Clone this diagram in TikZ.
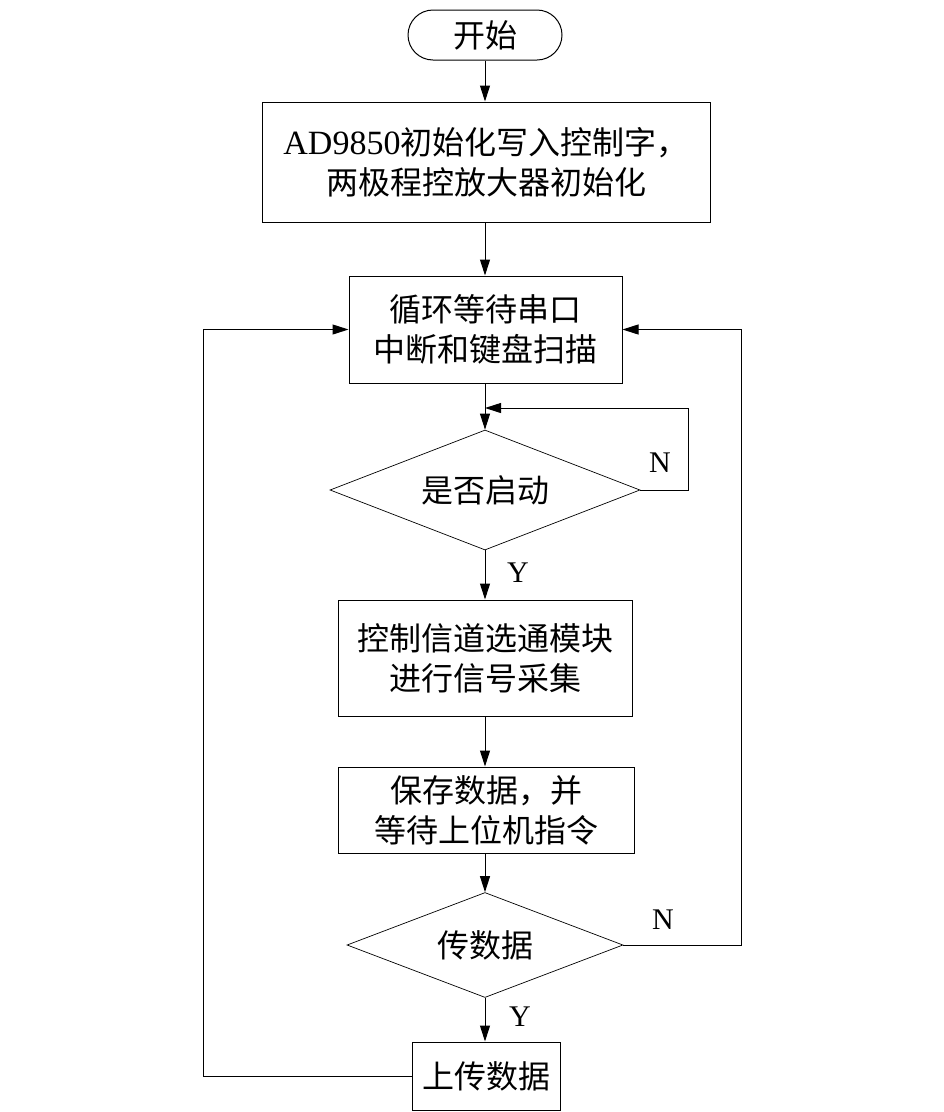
\documentclass[tikz,border=0pt]{standalone}
\usepackage{fontspec}
\setmainfont{Liberation Serif}
\newfontfamily\cjk{Noto Sans CJK SC}
\usetikzlibrary{shapes.geometric,arrows.meta}
\begin{document}
\begin{tikzpicture}[x=1pt,y=-1pt,
  every node/.style={font=\cjk\fontsize{32}{40}\selectfont, align=center, inner sep=0pt},
  box/.style={draw, line width=1pt, rectangle},
  dia/.style={draw, line width=0.7pt, diamond, inner sep=0pt},
  lbl/.style={font=\rmfamily\fontsize{30}{36}\selectfont},
  arr/.style={line width=1pt, -{Triangle[length=16pt,width=10pt]}},
  ln/.style={line width=1pt}]
\useasboundingbox (0,0) rectangle (944,1112);
\node[box, rounded corners=25pt, minimum width=154pt, minimum height=50pt] (start) at (485,35) {开始};
\node[box, minimum width=448pt, minimum height=120pt] (b1) at (486,162) {{\rmfamily\fontsize{34}{40}\selectfont AD9850}初始化写入控制字，\\两极程控放大器初始化};
\node[box, minimum width=273pt, minimum height=107pt] (b2) at (485.5,329.5) {循环等待串口\\中断和键盘扫描};
\node[dia, minimum width=310pt, minimum height=120pt, aspect=2.58] (d1) at (485,490) {是否启动};
\node[box, minimum width=294pt, minimum height=116pt] (b3) at (485,658) {控制信道选通模块\\进行信号采集};
\node[box, minimum width=296pt, minimum height=86pt] (b4) at (486,810) {保存数据，并\\等待上位机指令};
\node[dia, minimum width=276pt, minimum height=105pt, aspect=2.63] (d2) at (485,945) {传数据};
\node[box, minimum width=148pt, minimum height=68pt] (b5) at (486,1076) {上传数据};
\coordinate (j1) at (485,408);
\coordinate (r1) at (688,490);
\coordinate (r2) at (741,945);
\coordinate (l1) at (203,1076);
\draw[arr] (start.south) -- (start.south |- b1.north);
\draw[arr] (b1.south -| start.south) -- (b2.north -| start.south);
\draw[arr] (b2.south -| d1.north) -- (d1.north);
\draw[arr] (d1.east) -- (r1) |- (j1);
\draw[arr] (d1.south) -- (d1.south |- b3.north);
\draw[arr] (b3.south -| d1.south) -- (b4.north -| d1.south);
\draw[arr] (b4.south -| d2.north) -- (d2.north);
\draw[arr] (d2.east) -- (r2) |- (b2.east);
\draw[arr] (d2.south) -- (d2.south |- b5.north);
\draw[arr] (b5.west) -- (l1) |- (b2.west);
\node[lbl] (n1) at (660,463) {N};
\node[lbl] (y1) at (518,573) {Y};
\node[lbl] (n2) at (663,920) {N};
\node[lbl] (y2) at (520,1017) {Y};
\end{tikzpicture}
\end{document}
